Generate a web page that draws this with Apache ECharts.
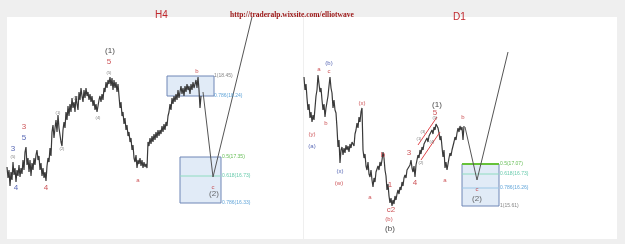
<!DOCTYPE html>
<html><head><meta charset="utf-8">
<script src="https://cdn.jsdelivr.net/npm/echarts@6/dist/echarts.min.js"></script>
<style>html,body{margin:0;padding:0;background:#efefef}#c{width:625px;height:244px}</style>
</head><body><div id="c"></div>
<script>
// H4 panel: closing level per bar (bar index = position in array)
const h4Close = [77,66,74,58,72,64,82,69,76,62,74,68,79,67,76,70,84,74,92,97,79,86,72,84,68,81,74,86,79,89,94,84,88,74,81,68,76,66,72,63,78,86,82,96,88,112,119,106,116,124,112,129,116,109,102,98,114,122,116,132,124,138,128,140,132,146,136,142,132,148,140,134,152,144,156,148,142,154,146,156,148,152,144,150,142,148,138,144,134,140,132,138,144,148,142,150,144,156,152,162,156,164,160,167,158,166,154,164,156,162,152,160,148,136,142,128,132,120,126,114,119,108,112,102,106,94,99,86,82,89,76,84,80,86,78,84,76,82,77,80,76,102,98,106,100,108,102,110,104,112,106,114,108,114,110,118,112,120,114,122,118,128,132,140,134,146,140,148,142,150,144,154,146,152,158,150,156,148,158,152,160,154,158,150,160,154,162,156,160,164,156,167,154,136,148];
const h4Projection = [[196,152],[206,67],[245,227]];
const h4BoxTop = {x:[160,207], y:[148,168]};
const h4BoxBottom = {x:[173,214], y:[41,87], mid:68};
const h4Fib = [["1(18.45)",207,168,"gray"],["0.786(18.24)",207,148,"blue"],["0.5(17.35)",215,87,"green"],["0.618(16.73)",215,68,"teal"],["0.786(16.33)",215,41,"blue"]];
const h4Labels = [["3",17,117,"red"],["5",17,106,"blue"],["3",6,95,"blue"],["(5)",6,87,"tiny"],["4",9,56,"blue"],["4",39,56,"red"],["(1)",51,131,"tiny"],["(2)",55,95,"tiny"],["(3)",69,146,"tiny"],["(4)",91,126,"tiny"],["(5)",102,171,"tiny"],["5",102,182,"red"],["(1)",103,193,"black"],["a",131,64,"redS"],["b",190,173,"redS"],["c",206,57,"redS"],["(2)",207,50,"dark"]];

// D1 panel
const d1Close = [167,154,160,146,134,140,126,132,122,129,124,136,148,154,169,160,152,156,144,134,140,127,136,142,148,158,167,156,151,136,144,134,131,116,97,104,81,94,97,89,96,91,99,94,98,92,100,96,102,104,98,110,114,121,116,127,122,132,136,94,86,90,78,74,82,70,67,74,64,57,66,62,72,71,78,74,82,78,84,92,86,74,68,54,60,48,41,46,38,44,40,48,44,50,54,50,57,54,62,58,66,69,66,74,76,72,79,84,76,72,78,67,79,84,89,86,94,90,97,94,100,102,98,106,102,108,109,106,114,110,117,114,120,122,116,111,104,108,97,87,94,76,82,74,80,86,91,88,94,96,102,107,104,111,116,112,118,114,117,104,118];
const d1Projection = [[161,117],[173,64],[204,192]];
const d1Box = {x:[158,195], y:[38,80], l618:70, l786:56};
const d1Channel = [[[114,99],[133,127]],[[117,84],[136,112]]];
const d1Fib = [["0.5(17.07)",196,80,"green"],["0.618(16.73)",196,70,"teal"],["0.786(16.26)",196,56,"blue"],["1(15.61)",196,38,"gray"]];
const d1Labels = [["a",15,175,"redS"],["(b)",25,181,"blueS"],["c",25,173,"redS"],["b",22,121,"redS"],["(y)",8,110,"redS"],["(a)",8,98,"blueS"],["(x)",36,73,"blueS"],["(w)",35,61,"redS"],["(x)",58,141,"redS"],["a",66,47,"redS"],["b",79,89,"red"],["1",86,59,"red"],["c2",87,34,"red"],["(b)",85,25,"redS"],["(b)",86,15,"black"],["3",105,91,"red"],["4",111,61,"red"],["5",131,131,"red"],["(1)",133,139,"black"],["(5)",131,126,"tiny"],["(1)",115,105,"tiny"],["(3)",119,112,"tiny"],["(2)",117,81,"tiny"],["(4)",128,102,"tiny"],["a",141,64,"redS"],["b",159,127,"redS"],["c",173,55,"redS"],["(2)",173,45,"dark"]];

const styles = {
  red:{color:'#c0282d',fontSize:8},
  redS:{color:'#c0282d',fontSize:6},
  blue:{color:'#2a3fa0',fontSize:8},
  blueS:{color:'#2a3fa0',fontSize:6},
  tiny:{color:'#555',fontSize:4},
  black:{color:'#111',fontSize:8},
  dark:{color:'#444',fontSize:8},
  green:{color:'#3fae2a',fontSize:5},
  teal:{color:'#3dbb95',fontSize:5},
  gray:{color:'#666',fontSize:5}
};
styles.blue5 = {color:'#3a8fd0',fontSize:5};

function labelSeries(list, xi, yi, align) {
  return {type:'scatter', xAxisIndex:xi, yAxisIndex:yi, symbolSize:0, silent:true, z:10,
    data: list.map(l => {
      const st = (align==='left' && l[3]==='blue') ? styles.blue5 : styles[l[3]];
      return {value:[l[1], l[2]], name:l[0],
        label:{show:true, formatter:l[0], position: align==='left'?'right':'inside', distance:0,
          color:st.color, fontSize:st.fontSize, fontFamily:'Liberation Sans'}};
    })};
}
function idx(arr){ return arr.map((v,i)=>[i,v]); }
function box(b, xi, yi, border){
  return {type:'line', xAxisIndex:xi, yAxisIndex:yi, data:[], silent:true, z:1,
    markArea:{silent:true, itemStyle:{color:'#e1ebf7', borderColor:border||'#6f86b6', borderWidth:1},
      data:[[{coord:[b.x[0],b.y[0]]},{coord:[b.x[1],b.y[1]]}]]}};
}
function seg(pts, xi, yi, color, w){
  return {type:'line', xAxisIndex:xi, yAxisIndex:yi, data:pts, symbol:'none', silent:true,
    lineStyle:{color:color, width:w||1}, z:3};
}

const chart = echarts.init(document.getElementById('c'), null, {renderer:'canvas'});
chart.setOption({
  backgroundColor:'#efefef',
  animation:false,
  title:[
    {text:'H4', left:150, top:5, textStyle:{color:'#c0282d', fontSize:10, fontWeight:'normal', fontFamily:'Liberation Sans'}},
    {text:'http://traderalp.wixsite.com/elliotwave', left:225, top:6, textStyle:{color:'#9b1515', fontSize:7.5, fontWeight:'bold', fontFamily:'Liberation Serif'}},
    {text:'D1', left:448, top:7, textStyle:{color:'#c0282d', fontSize:10, fontWeight:'normal', fontFamily:'Liberation Sans'}}
  ],
  grid:[
    {left:7, top:17, width:296, height:222, show:true, backgroundColor:'#ffffff', borderWidth:0},
    {left:304, top:17, width:313, height:222, show:true, backgroundColor:'#ffffff', borderWidth:0}
  ],
  xAxis:[
    {type:'value', gridIndex:0, min:0, max:296, show:false},
    {type:'value', gridIndex:1, min:0, max:313, show:false}
  ],
  yAxis:[
    {type:'value', gridIndex:0, min:5, max:227, show:false},
    {type:'value', gridIndex:1, min:5, max:227, show:false}
  ],
  series:[
    box(h4BoxTop,0,0),
    box(h4BoxBottom,0,0),
    seg([[h4BoxBottom.x[0],h4BoxBottom.mid],[h4BoxBottom.x[1],h4BoxBottom.mid]],0,0,'#8fdcc0',1),
    seg(idx(h4Close),0,0,'#3a3a3a',1.2),
    seg(h4Projection,0,0,'#555555',1),
    labelSeries(h4Labels,0,0,'center'),
    labelSeries(h4Fib,0,0,'left'),

    box(d1Box,1,1),
    seg([[d1Box.x[0],d1Box.y[1]],[d1Box.x[1],d1Box.y[1]]],1,1,'#66c23a',2),
    seg([[d1Box.x[0],d1Box.l618],[d1Box.x[1],d1Box.l618]],1,1,'#8fdcc0',1),
    seg([[d1Box.x[0],d1Box.l786],[d1Box.x[1],d1Box.l786]],1,1,'#9cc7e6',1),
    seg(idx(d1Close),1,1,'#3a3a3a',1.2),
    seg(d1Projection,1,1,'#555555',1),
    seg(d1Channel[0],1,1,'#e0474c',1),
    seg(d1Channel[1],1,1,'#e0474c',1),
    labelSeries(d1Labels,1,1,'center'),
    labelSeries(d1Fib,1,1,'left')
  ]
});
</script></body></html>
